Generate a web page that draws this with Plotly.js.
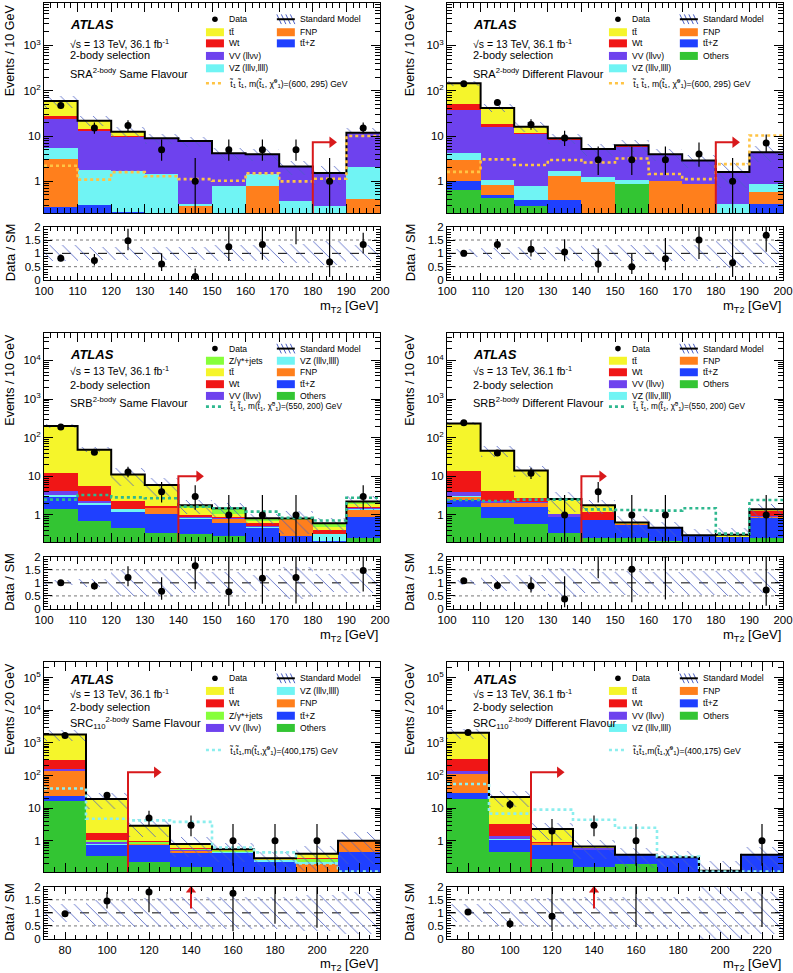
<!DOCTYPE html>
<html><head><meta charset="utf-8">
<script src="https://cdn.plot.ly/plotly-3.0.1.min.js"></script>
<style>html,body{margin:0;padding:0;background:#fff}#chart{width:793px;height:973px}</style>
</head><body><div id="chart"></div>
<script>
// ================= DATA =================
const mt2AB = [105,115,125,135,145,155,165,175,185,195];
const mt2C  = [80,100,120,140,160,180,200,220];

// SRA 2-body, Same Flavour
const SRA_SF_ttbar = [32.1,7.7,2.4,0,0,0,0,0,0,0];
const SRA_SF_Wt    = [3.9,0.9,0.3,0,0,0,0,0,0,0];
const SRA_SF_VV    = [17.9,11.3,8.0,7.45,7.5,3.37,2.5,1.77,1.24,9.8];
const SRA_SF_VZ    = [2.42,1.5,1.45,1.45,0.03,0.8,0.67,0.36,0.28,1.62];
const SRA_SF_FNP   = [2.87,0,0,0,0.28,0,0.8,0,0,0.41];
const SRA_SF_ttZ   = [0.27,0.3,0.21,0,0,0,0,0,0,0];
const SRA_SF_data  = [47,15,17,5,1,5,5,5,1,15];
const SRA_SF_ratio = [0.82,0.73,1.47,0.6,0.13,1.25,1.33,2.35,0.68,1.33];
const SRA_SF_unc   = [0.3,0.25,0.25,0.25,0.25,0.3,0.3,0.35,0.45,0.3];
const SRA_SF_sig   = [2.2,1.09,1.6,1.29,1.12,1.03,1.5,1.0,1.14,10.0];

// SRA 2-body, Different Flavour
const SRA_DF_ttbar = [95,23.4,4.2,0.3,0,0,0,0,0,0];
const SRA_DF_Wt    = [13,2.8,0.8,0.4,0,0.7,0,0,0,0];
const SRA_DF_VV    = [34,14.4,10.2,6.5,3.96,4.5,2.94,2.0,1.29,3.5];
const SRA_DF_VZ    = [1.2,0.27,0.42,0.42,0.27,0.2,0,0,0.31,0.3];
const SRA_DF_FNP   = [1.95,0.32,0,0.91,0.97,0,1.03,0.87,0,0.26];
const SRA_DF_ttZ   = [0.37,0.07,0.09,0.38,0,0,0,0,0,0.31];
const SRA_DF_others= [0.66,0.43,0.29,0,0,0.89,0,0,0,0];
const SRA_DF_data  = [143,55,18,9,3,3,3,4,1,7];
const SRA_DF_ratio = [1.0,1.33,1.15,1.05,0.6,0.5,0.8,1.5,0.65,1.68];
const SRA_DF_unc   = [0.15,0.2,0.25,0.25,0.3,0.3,0.3,0.3,0.55,0.4];
const SRA_DF_sig   = [1.62,3.05,2.3,2.95,2.6,3.2,1.45,1.12,2.4,10.3];

// SRB 2-body, Same Flavour
const SRB_SF_ttbar = [188,43,8.85,4.25,0.49,0.14,0.08,0.02,0.07,0.31];
const SRB_SF_Wt    = [7.7,3.4,0.92,0.22,0.1,0.05,0.1,0.02,0.09,0.1];
const SRB_SF_VV    = [0.88,0.3,0,0,0.06,0.06,0.02,0,0,0.05];
const SRB_SF_VZ    = [0.31,0.19,0.26,0,0.05,0,0.05,0,0.11,0.1];
const SRB_SF_FNP   = [0,0,0,0.45,0,0.18,0,0.46,0,0.45];
const SRB_SF_ttZ   = [1.58,1.11,0.72,0.7,0.47,0.33,0.45,0.28,0.21,0.65];
const SRB_SF_others= [1.4,0.7,0.45,0.34,0.32,0.28,0,0,0,0.25];
const SRB_SF_zjets = [0,0,0,0,0.29,0.45,0.12,0.03,0.13,0.32];
const SRB_SF_data  = [190,42,13,4,3,1,1,1,0,3];
const SRB_SF_ratio = [1.0,0.88,1.2,0.68,1.65,0.66,1.18,1.2,null,1.47];
const SRB_SF_unc   = [0.1,0.15,0.5,0.5,0.4,0.4,0.3,0.6,0.35,0.4];
const SRB_SF_sig   = [2.5,3.3,2.85,2.7,1.65,1.5,1.22,0.85,0.72,2.8];

// SRB 2-body, Different Flavour
const SRB_DF_ttbar = [220,42,11.3,1.54,0.61,0.04,0,0,0.04,0.13];
const SRB_DF_Wt    = [9.7,1.87,0.6,0,0.43,0.02,0,0.01,0,0.32];
const SRB_DF_VV    = [1.0,0.25,0.1,0.17,0,0,0,0,0,0.06];
const SRB_DF_VZ    = [0.1,0.05,0.05,0.02,0,0,0,0,0,0.02];
const SRB_DF_FNP   = [0.5,0.42,0.42,0,0,0.04,0,0,0,0.05];
const SRB_DF_ttZ   = [0.86,0.73,1.0,0.53,0.48,0.29,0.26,0.29,0.27,0.56];
const SRB_DF_others= [1.58,0.85,0.58,0.34,0.26,0.25,0.21,0,0,0.26];
const SRB_DF_data  = [245,40,12,1,4,1,1,0,0,1];
const SRB_DF_ratio = [1.08,0.9,0.88,0.38,2.25,1.52,2.1,null,null,0.73];
const SRB_DF_unc   = [0.1,0.3,0.3,0.55,0.4,0.45,0.4,0.45,0.5,0.4];
const SRB_DF_sig   = [2.44,2.3,2.5,2.5,1.4,1.35,1.3,1.49,0.33,2.45];

// SRC 2-body (110), Same Flavour
const SRC_SF_ttbar = [1510,17.3,1.95,0.19,0.05,0.03,0.11,0.05];
const SRC_SF_Wt    = [150,0.65,0.05,0.03,0,0,0.02,0];
const SRC_SF_zjets = [0,0.17,0.08,0.06,0.04,0,0.04,0];
const SRC_SF_VV    = [20,0.1,0.02,0.02,0,0,0,0];
const SRC_SF_VZ    = [5,0.05,0.03,0.02,0.04,0.03,0.03,0];
const SRC_SF_FNP   = [112,0,0.05,0.05,0,0,0.2,0.5];
const SRC_SF_ttZ   = [6.8,0.4,0.5,0.26,0.42,0.23,0,0.45];
const SRC_SF_others= [16.2,0.35,0.22,0.16,0,0,0,0];
const SRC_SF_data  = [1700,25,5,3,1,1,1,0];
const SRC_SF_ratio = [0.97,1.45,1.8,null,1.75,3.4,2.5,null];
const SRC_SF_unc   = [0.35,0.5,0.55,0.6,0.6,0.6,0.7,0.8];
const SRC_SF_sig   = [40,4.75,4.2,3.8,0.62,0.44,0.2,0.113];

// SRC 2-body (110), Different Flavour
const SRC_DF_ttbar = [1710,18.75,1.38,0.07,0,0,0,0];
const SRC_DF_Wt    = [195,1.89,0.05,0.02,0,0,0,0];
const SRC_DF_VV    = [20,0.25,0.02,0.05,0,0,0,0];
const SRC_DF_VZ    = [3,0.04,0,0,0,0,0,0];
const SRC_DF_FNP   = [83,0,0.1,0,0,0,0,0];
const SRC_DF_ttZ   = [9.4,0.62,0.48,0.37,0.17,0.31,0.12,0.37];
const SRC_DF_others= [19.6,0.45,0.27,0.16,0.2,0,0,0];
const SRC_DF_data  = [2100,13,2,3,1,0,0,1];
const SRC_DF_ratio = [1.03,0.58,0.87,null,2.7,null,null,2.7];
const SRC_DF_unc   = [0.35,0.5,0.55,0.6,0.6,0.6,1.0,0.8];
const SRC_DF_sig   = [55,6.8,9.0,4.4,2.5,0.33,0.113,0.113];

// signal-region cut arrows (cut value, arrow height, arrow tip)
const SRA_cut = {x:180, y:7.3, tip:187};
const SRB_cut = {x:140, y:10, tip:147.4};
const SRC_cut = {x:110, y:126, tip:126};
const SRC_offscaleRatio = 140;

// ================= STYLE =================
const FONT = 'Liberation Sans, Arial, Helvetica, sans-serif';
const W = 793, H = 973;
const px = v => v / W, py = v => 1 - v / H;
const COLORS = {ttbar:'#f5f52b', Wt:'#f01616', VV:'#6e42ee', VZ:'#70f4f4', FNP:'#ff7f1c', ttZ:'#1f40ff', others:'#33c533', zjets:'#86ff3a'};
const LABELS = {ttbar:'tt\u0304', Wt:'Wt', VV:'VV (ll\u03bd\u03bd)', VZ:'VZ (lll\u03bd,llll)', FNP:'FNP', ttZ:'tt\u0304+Z', others:'Others', zjets:'Z/\u03b3*+jets'};
const HATCH = '#4a5ec4';
const RED = '#d8191b';
const ORDER_AB = ['others','ttZ','FNP','VZ','VV','Wt','ttbar','zjets'];
const ORDER_C  = ['others','ttZ','FNP','VZ','VV','zjets','Wt','ttbar'];

const ROWS = [
  {main:[3.3,213], ratio:[226.7,280], xt:306, txt:[0.897,0.809,0.753,0.669], leg:[0.924,0.862,0.809,0.749,0.690], sigY:0.619},
  {main:[332.7,542], ratio:[556.7,609], xt:635, txt:[0.896,0.82,0.75,0.67], leg:[0.924,0.866,0.811,0.754,0.698], sigY:0.647},
  {main:[661.7,872], ratio:[886.7,939], xt:964, txt:[0.913,0.85,0.783,0.707], leg:[0.921,0.861,0.802,0.743,0.685], sigY:0.58}
];
const COLS = [{x:[44,380], yt:10}, {x:[447,783], yt:410}];

const sigA = (a,b)=>'t\u0303<sub>1</sub> t\u0303<sub>1</sub>, m(t\u0303<sub>1</sub>, \u03c7\u0303<sup>0</sup><sub>1</sub>)=('+a+', '+b+') GeV';
const sigC = 't\u0303<sub>1</sub>t\u0303<sub>1</sub>,m(t\u0303<sub>1</sub>,\u03c7\u0303<sup>0</sup><sub>1</sub>)=(400,175) GeV';

const panels = [
  {row:0,col:0,centers:mt2AB,bw:10,xr:[100,200],yr:[0.2,8500],order:ORDER_AB,
   comps:{ttbar:SRA_SF_ttbar,Wt:SRA_SF_Wt,VV:SRA_SF_VV,VZ:SRA_SF_VZ,FNP:SRA_SF_FNP,ttZ:SRA_SF_ttZ},
   data:SRA_SF_data,ratio:SRA_SF_ratio,unc:SRA_SF_unc,sig:SRA_SF_sig,sigColor:'#ffc444',sigLabel:sigA(600,295),
   region:'SRA<sup>2-body</sup> Same Flavour',leg0:['ttbar','Wt','VV','VZ'],leg1:['FNP','ttZ'],cut:SRA_cut,ytitle:'Events / 10 GeV'},
  {row:0,col:1,centers:mt2AB,bw:10,xr:[100,200],yr:[0.2,8500],order:ORDER_AB,
   comps:{ttbar:SRA_DF_ttbar,Wt:SRA_DF_Wt,VV:SRA_DF_VV,VZ:SRA_DF_VZ,FNP:SRA_DF_FNP,ttZ:SRA_DF_ttZ,others:SRA_DF_others},
   data:SRA_DF_data,ratio:SRA_DF_ratio,unc:SRA_DF_unc,sig:SRA_DF_sig,sigColor:'#ffc444',sigLabel:sigA(600,295),
   region:'SRA<sup>2-body</sup> Different Flavour',leg0:['ttbar','Wt','VV','VZ'],leg1:['FNP','ttZ','others'],cut:SRA_cut,ytitle:'Events / 10 GeV'},
  {row:1,col:0,centers:mt2AB,bw:10,xr:[100,200],yr:[0.2,52000],order:ORDER_AB,
   comps:{ttbar:SRB_SF_ttbar,Wt:SRB_SF_Wt,VV:SRB_SF_VV,VZ:SRB_SF_VZ,FNP:SRB_SF_FNP,ttZ:SRB_SF_ttZ,others:SRB_SF_others,zjets:SRB_SF_zjets},
   data:SRB_SF_data,ratio:SRB_SF_ratio,unc:SRB_SF_unc,sig:SRB_SF_sig,sigColor:'#2fb88f',sigLabel:sigA(550,200),
   region:'SRB<sup>2-body</sup> Same Flavour',leg0:['zjets','ttbar','Wt','VV'],leg1:['VZ','FNP','ttZ','others'],cut:SRB_cut,ytitle:'Events / 10 GeV'},
  {row:1,col:1,centers:mt2AB,bw:10,xr:[100,200],yr:[0.2,52000],order:ORDER_AB,
   comps:{ttbar:SRB_DF_ttbar,Wt:SRB_DF_Wt,VV:SRB_DF_VV,VZ:SRB_DF_VZ,FNP:SRB_DF_FNP,ttZ:SRB_DF_ttZ,others:SRB_DF_others},
   data:SRB_DF_data,ratio:SRB_DF_ratio,unc:SRB_DF_unc,sig:SRB_DF_sig,sigColor:'#2fb88f',sigLabel:sigA(550,200),
   region:'SRB<sup>2-body</sup> Different Flavour',leg0:['ttbar','Wt','VV','VZ'],leg1:['FNP','ttZ','others'],cut:SRB_cut,ytitle:'Events / 10 GeV'},
  {row:2,col:0,centers:mt2C,bw:20,xr:[70,230],yr:[0.11,310000],order:ORDER_C,
   comps:{ttbar:SRC_SF_ttbar,Wt:SRC_SF_Wt,zjets:SRC_SF_zjets,VV:SRC_SF_VV,VZ:SRC_SF_VZ,FNP:SRC_SF_FNP,ttZ:SRC_SF_ttZ,others:SRC_SF_others},
   data:SRC_SF_data,ratio:SRC_SF_ratio,unc:SRC_SF_unc,sig:SRC_SF_sig,sigColor:'#8ceeee',sigLabel:sigC,
   region:'SRC<sub>110</sub><sup>2-body</sup> Same Flavour',leg0:['ttbar','Wt','zjets','VV'],leg1:['VZ','FNP','ttZ','others'],cut:SRC_cut,ytitle:'Events / 20 GeV',ratioArrow:SRC_offscaleRatio},
  {row:2,col:1,centers:mt2C,bw:20,xr:[70,230],yr:[0.11,310000],order:ORDER_C,
   comps:{ttbar:SRC_DF_ttbar,Wt:SRC_DF_Wt,VV:SRC_DF_VV,VZ:SRC_DF_VZ,FNP:SRC_DF_FNP,ttZ:SRC_DF_ttZ,others:SRC_DF_others},
   data:SRC_DF_data,ratio:SRC_DF_ratio,unc:SRC_DF_unc,sig:SRC_DF_sig,sigColor:'#8ceeee',sigLabel:sigC,
   region:'SRC<sub>110</sub><sup>2-body</sup> Different Flavour',leg0:['ttbar','Wt','VV','VZ'],leg1:['FNP','ttZ','others'],cut:SRC_cut,ytitle:'Events / 20 GeV',ratioArrow:SRC_offscaleRatio}
];

// Poisson 68% interval (Wilson-Hilferty approximation of Garwood)
function poisLo(n){ if(n<=0) return 0; const a=1-1/(9*n)-1/(3*Math.sqrt(n)); return n*a*a*a; }
function poisHi(n){ const m=n+1; const a=1-1/(9*m)+1/(3*Math.sqrt(m)); return m*a*a*a; }
const sfx = n => n===1 ? '' : String(n);
const stepY = a => a.concat([a[a.length-1]]);

const traces = [], shapes = [], annotations = [];
const layout = {width:W, height:H, margin:{l:0,r:0,t:0,b:0}, paper_bgcolor:'white', plot_bgcolor:'white',
  showlegend:false, barmode:'overlay', bargap:0, font:{family:FONT, size:11, color:'black'}, shapes, annotations};
const HATCH_PAT = {shape:'\\', fgcolor:HATCH, bgcolor:'rgba(0,0,0,0)', size:9, solidity:0.09};

panels.forEach((P, i) => {
  const R = ROWS[P.row], C = COLS[P.col];
  const nM = 2*i+1, nR = 2*i+2;
  const xM = 'x'+sfx(nM), yM = 'y'+sfx(nM), xR = 'x'+sfx(nR), yR = 'y'+sfx(nR);
  const n = P.centers.length;
  const edges = P.centers.map(c => c - P.bw/2).concat([P.centers[n-1] + P.bw/2]);
  const common = {xaxis:xM, yaxis:yM, hoverinfo:'skip', showlegend:false};
  const ymin = P.yr[0];

  // stacked backgrounds
  let cum = new Array(n).fill(0);
  P.order.forEach(k => {
    const v = P.comps[k]; if (!v) return;
    traces.push(Object.assign({type:'bar', x:P.centers, y:v, base:cum.map(c => c > 0 ? c : 1e-4), width:P.bw,
      marker:{color:COLORS[k], line:{width:0}}}, common));
    cum = cum.map((c, j) => c + v[j]);
  });
  const total = cum;
  // uncertainty hatch
  traces.push(Object.assign({type:'bar', x:P.centers, width:P.bw,
    base: total.map((t, j) => Math.max(t*(1-P.unc[j]), 1e-4)),
    y: total.map((t, j) => t*(1+P.unc[j]) - Math.max(t*(1-P.unc[j]), 1e-4)),
    marker:{color:'rgba(0,0,0,0)', line:{width:0}, pattern:HATCH_PAT}}, common));
  // total SM line
  traces.push(Object.assign({type:'scatter', mode:'lines', x:edges, y:stepY(total), line:{shape:'hv', color:'black', width:2}}, common));
  // signal
  traces.push(Object.assign({type:'scatter', mode:'lines', x:edges, y:stepY(P.sig), line:{shape:'hv', color:P.sigColor, width:2.6, dash:'dot'}}, common));
  // cut arrow
  const head = P.bw === 10 ? 1.3 : 2.4;
  traces.push(Object.assign({type:'scatter', mode:'lines', x:[P.cut.x, P.cut.x, P.cut.tip - head], y:[ymin/20, P.cut.y, P.cut.y], line:{color:RED, width:2}}, common));
  traces.push(Object.assign({type:'scatter', mode:'markers', x:[P.cut.tip - head], y:[P.cut.y], marker:{symbol:'triangle-right', size:10, color:RED}}, common));
  // data
  const dx = [], dy = [], eu = [], ed = [];
  P.data.forEach((d, j) => { if (d > 0) { dx.push(P.centers[j]); dy.push(d); eu.push(poisHi(d) - d); ed.push(d - poisLo(d)); } });
  traces.push(Object.assign({type:'scatter', mode:'markers', x:dx, y:dy, marker:{color:'black', size:7},
    error_y:{type:'data', symmetric:false, array:eu, arrayminus:ed, color:'black', thickness:1.2, width:0}}, common));

  // ratio panel
  const rc = {xaxis:xR, yaxis:yR, hoverinfo:'skip', showlegend:false};
  traces.push(Object.assign({type:'bar', x:P.centers, width:P.bw, base:P.unc.map(u => 1-u), y:P.unc.map(u => 2*u),
    marker:{color:'rgba(0,0,0,0)', line:{width:0}, pattern:HATCH_PAT}}, rc));
  const rx = [], ry = [], reu = [], red = [];
  P.data.forEach((d, j) => {
    const r = P.ratio[j];
    if (d > 0 && r !== null) { rx.push(P.centers[j]); ry.push(r); reu.push(r*(poisHi(d)-d)/d); red.push(r*(d-poisLo(d))/d); }
  });
  traces.push(Object.assign({type:'scatter', mode:'markers', x:rx, y:ry, marker:{color:'black', size:7},
    error_y:{type:'data', symmetric:false, array:reu, arrayminus:red, color:'black', thickness:1.2, width:0}}, rc));
  if (P.ratioArrow) {
    traces.push(Object.assign({type:'scatter', mode:'lines', x:[P.ratioArrow, P.ratioArrow], y:[1.17, 1.82], line:{color:RED, width:2}}, rc));
    traces.push(Object.assign({type:'scatter', mode:'markers', x:[P.ratioArrow], y:[1.86], marker:{symbol:'triangle-up', size:9, color:RED}}, rc));
  }
  [[1,'black','dash'],[0.5,'#777','dot'],[1.5,'#777','dot']].forEach(([v, c, d]) =>
    shapes.push({type:'line', xref:xR+' domain', yref:yR, x0:0, x1:1, y0:v, y1:v, line:{color:c, width:1, dash:d}, layer:'below'}));

  // axes
  const lo = Math.log10(P.yr[0]), hi = Math.log10(P.yr[1]);
  const tv = [], tt = [], mv = [];
  for (let k = Math.floor(lo); k <= Math.ceil(hi); k++) {
    const v = Math.pow(10, k);
    if (k >= 0 && k <= hi) { tv.push(v); tt.push(k === 0 ? '1' : k === 1 ? '10' : '10<sup>'+k+'</sup>'); }
    for (let m = 2; m <= 9; m++) { const w = m*v; if (Math.log10(w) > lo && Math.log10(w) < hi) mv.push(w); }
  }
  const axBase = {showline:true, linecolor:'black', linewidth:1, mirror:'ticks', showgrid:false, zeroline:false,
    ticks:'inside', tickcolor:'black', tickwidth:1, fixedrange:true, tickfont:{size:11.5, family:FONT}};
  const xmaj = P.bw === 10 ? 10 : 20, xmin = P.bw === 10 ? 2 : 5;
  layout['xaxis'+sfx(nM)] = Object.assign({}, axBase, {domain:[px(C.x[0]), px(C.x[1])], range:P.xr, anchor:yM,
    showticklabels:false, ticklen:9, tick0:0, dtick:xmaj, minor:{ticks:'inside', ticklen:5, tick0:0, dtick:xmin, tickcolor:'black'}});
  layout['yaxis'+sfx(nM)] = Object.assign({}, axBase, {type:'log', domain:[py(R.main[1]), py(R.main[0])], range:[lo, hi], anchor:xM,
    tickmode:'array', tickvals:tv, ticktext:tt, ticklen:9, minor:{tickmode:'array', tickvals:mv, ticks:'inside', ticklen:5, tickcolor:'black'}});
  layout['xaxis'+sfx(nR)] = Object.assign({}, axBase, {domain:[px(C.x[0]), px(C.x[1])], range:P.xr, anchor:yR,
    ticklen:7, tick0:0, dtick:xmaj, minor:{ticks:'inside', ticklen:4, tick0:0, dtick:xmin, tickcolor:'black'}});
  layout['yaxis'+sfx(nR)] = Object.assign({}, axBase, {domain:[py(R.ratio[1]), py(R.ratio[0])], range:[0, 2], anchor:xR,
    tickmode:'array', tickvals:[0,0.5,1,1.5,2], ticktext:['0','0.5','1','1.5','2'], ticklen:8,
    minor:{ticks:'inside', ticklen:4, tick0:0, dtick:0.1, tickcolor:'black'}});

  // axis titles
  annotations.push({xref:'paper', yref:'paper', x:px(C.yt), y:py(R.main[0]-1), xanchor:'center', yanchor:'top', textangle:-90,
    text:P.ytitle, showarrow:false, font:{size:12.5, family:FONT}});
  annotations.push({xref:'paper', yref:'paper', x:px(C.yt), y:py((R.ratio[0]+R.ratio[1])/2 - 1), xanchor:'center', yanchor:'middle', textangle:-90,
    text:'Data / SM', showarrow:false, font:{size:13, family:FONT}});
  annotations.push({xref:'paper', yref:'paper', x:px(C.x[1]), y:py(R.xt), xanchor:'right', yanchor:'middle',
    text:'m<sub>T2</sub> [GeV]', showarrow:false, font:{size:13, family:FONT}});

  // in-panel labels
  const xd = xM+' domain', yd = yM+' domain';
  const lab = (y, text, size) => annotations.push({xref:xd, yref:yd, x:0.071, y:y, xanchor:'left', yanchor:'middle', text, showarrow:false, font:{size, family:FONT}});
  lab(R.txt[0], '<b><i>ATLAS</i></b>', 13);
  lab(R.txt[1], '\u221As = 13 TeV, 36.1 fb<sup>-1</sup>', 10.5);
  lab(R.txt[2], '2-body selection', 11);
  lab(R.txt[3], P.region, 11);

  // legend
  const BW = 18/336, BH = 8/210;
  const colX = [0.482, 0.693], txX = [0.546, 0.756];
  const ltext = (x, y, t, s) => annotations.push({xref:xd, yref:yd, x, y, xanchor:'left', yanchor:'middle', text:t, showarrow:false, font:{size:s||8.6, family:FONT}});
  const box = (c, r, key) => {
    const y = R.leg[r];
    shapes.push({type:'rect', xref:xd, yref:yd, x0:colX[c], x1:colX[c]+BW, y0:y-BH/2, y1:y+BH/2, fillcolor:COLORS[key], line:{width:0}, layer:'above'});
    ltext(txX[c], y, LABELS[key]);
  };
  // Data
  const y0 = R.leg[0], cx = colX[0] + BW/2;
  shapes.push({type:'circle', xref:xd, yref:yd, x0:cx-2.8/336, x1:cx+2.8/336, y0:y0-2.8/210, y1:y0+2.8/210, fillcolor:'black', line:{width:0}, layer:'above'});
  ltext(txX[0], y0, 'Data');
  // Standard Model
  const sx = colX[1];
  for (let h = 0; h < 4; h++) {
    const a = sx + h*BW/4;
    shapes.push({type:'line', xref:xd, yref:yd, x0:a, x1:a+BW/4, y0:y0+BH/2+0.004, y1:y0-BH/2-0.004, line:{color:HATCH, width:1}, layer:'above'});
  }
  shapes.push({type:'line', xref:xd, yref:yd, x0:sx, x1:sx+BW, y0:y0, y1:y0, line:{color:'black', width:2}, layer:'above'});
  ltext(txX[1], y0, 'Standard Model');
  P.leg0.forEach((k, r) => box(0, r+1, k));
  P.leg1.forEach((k, r) => box(1, r+1, k));
  // Signal
  shapes.push({type:'line', xref:xd, yref:yd, x0:colX[0], x1:colX[0]+0.045, y0:R.sigY, y1:R.sigY, line:{color:P.sigColor, width:2.6, dash:'dot'}, layer:'above'});
  ltext(txX[0], R.sigY, P.sigLabel, P.row === 1 ? 8.2 : 8.6);
});

Plotly.newPlot('chart', traces, layout, {staticPlot:true, displayModeBar:false});
</script>
</body></html>
